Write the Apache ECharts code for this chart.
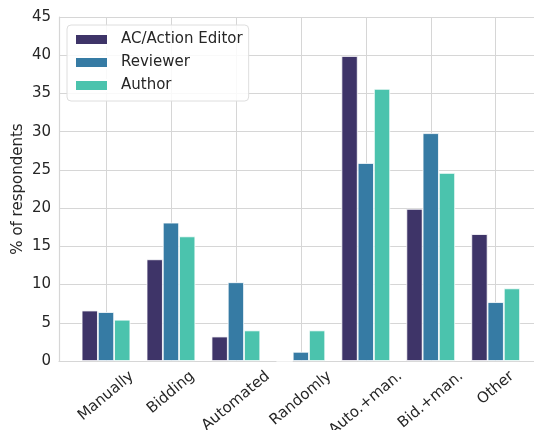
<!DOCTYPE html>
<html>
<head>
<meta charset="utf-8">
<script src="https://cdn.jsdelivr.net/npm/echarts@6/dist/echarts.min.js"></script>
<style>
  html, body { margin: 0; padding: 0; background: #fff; }
  #chart { width: 534px; height: 430px; }
</style>
</head>
<body>
<div id="chart"></div>
<script>
var categories = ['Manually', 'Bidding', 'Automated', 'Randomly', 'Auto.+man.', 'Bid.+man.', 'Other'];
var acEditor = [6.6, 13.3, 3.2, 0, 39.9, 19.9, 16.6];
var reviewer = [6.4, 18.1, 10.3, 1.2, 25.9, 29.8, 7.7];
var author = [5.4, 16.3, 4.0, 4.0, 35.6, 24.6, 9.5];
var seriesNames = ['AC/Action Editor', 'Reviewer', 'Author'];
var yTicks = [0, 5, 10, 15, 20, 25, 30, 35, 40, 45];

var font = 'DejaVu Sans';
var fontSize = 15;
var textColor = '#262626';
var gridColor = '#d6d6d6';
var colors = ['#3e3468', '#367ba4', '#4bc3ad'];

// matplotlib centres the rotated label box under the tick; shift each label down
// by half of its extra height so they line up like the reference
var ctx = document.createElement('canvas').getContext('2d');
ctx.font = fontSize + 'px "' + font + '"';
var widths = categories.map(function (c) { return ctx.measureText(c).width; });
var minW = Math.min.apply(null, widths);
var ang = 40 * Math.PI / 180;
var rich = {};
categories.forEach(function (c, i) {
  var d = (widths[i] - minW) * Math.sin(ang) / 2;
  rich['c' + i] = {
    fontFamily: font,
    fontSize: fontSize,
    color: textColor,
    padding: [2 * d * Math.cos(ang), 2 * d * Math.sin(ang), 0, 0]
  };
});

function barSeries(name, values, color) {
  return {
    name: name,
    type: 'bar',
    xAxisIndex: 1,
    yAxisIndex: 1,
    data: values,
    barWidth: '25%',
    barGap: '0%',
    clip: false,
    itemStyle: { color: color, borderColor: '#fff', borderWidth: 0.8 }
  };
}

var chart = echarts.init(document.getElementById('chart'), null, { renderer: 'canvas' });
chart.setOption({
  animation: false,
  backgroundColor: '#fff',
  color: colors,
  textStyle: { fontFamily: font },
  grid: [
    { left: 59, right: 0, top: 17, bottom: 69, outerBoundsMode: 'none' },
    { left: 106, right: 38.3, top: 17, bottom: 69, outerBoundsMode: 'none' }
  ],
  legend: {
    data: seriesNames,
    orient: 'vertical',
    left: 67,
    top: 25,
    padding: [6, 6, 7, 7],
    itemWidth: 33,
    itemHeight: 11,
    itemGap: 6,
    icon: 'rect',
    backgroundColor: 'rgba(255,255,255,0.85)',
    borderColor: '#dedede',
    borderWidth: 1,
    borderRadius: 4,
    textStyle: { fontFamily: font, fontSize: fontSize, color: textColor, lineHeight: 17, padding: [0, 0, 0, 8] }
  },
  xAxis: [
    {
      gridIndex: 0,
      type: 'value',
      min: 0,
      max: 1,
      axisLine: { show: true, lineStyle: { color: gridColor, width: 1.2 } },
      axisTick: { show: false },
      axisLabel: { show: false },
      splitLine: { show: false }
    },
    {
      gridIndex: 1,
      type: 'category',
      data: categories,
      boundaryGap: false,
      axisLine: { show: false },
      axisTick: { show: false },
      splitLine: { show: true, lineStyle: { color: gridColor, width: 1 } },
      axisLabel: {
        interval: 0,
        hideOverlap: false,
        rotate: 40,
        align: 'center',
        verticalAlign: 'middle',
        margin: 27,
        fontFamily: font,
        fontSize: fontSize,
        color: textColor,
        formatter: function (v) {
          return '{c' + categories.indexOf(v) + '|' + v + '}';
        },
        rich: rich
      }
    }
  ],
  yAxis: [
    {
      gridIndex: 0,
      type: 'value',
      min: yTicks[0],
      max: yTicks[yTicks.length - 1],
      interval: 5,
      name: '% of respondents',
      nameLocation: 'middle',
      nameGap: 33,
      nameMoveOverlap: false,
      nameTextStyle: { fontFamily: font, fontSize: fontSize, color: textColor },
      axisLine: { show: true, lineStyle: { color: gridColor, width: 1.2 } },
      axisTick: { show: false },
      axisLabel: { margin: 8, fontFamily: font, fontSize: fontSize, color: textColor },
      splitLine: { show: true, lineStyle: { color: gridColor, width: 1 } }
    },
    {
      gridIndex: 1,
      type: 'value',
      min: yTicks[0],
      max: yTicks[yTicks.length - 1],
      show: false,
      splitLine: { show: false }
    }
  ],
  series: [
    barSeries(seriesNames[0], acEditor, colors[0]),
    barSeries(seriesNames[1], reviewer, colors[1]),
    barSeries(seriesNames[2], author, colors[2])
  ]
});
</script>
</body>
</html>
